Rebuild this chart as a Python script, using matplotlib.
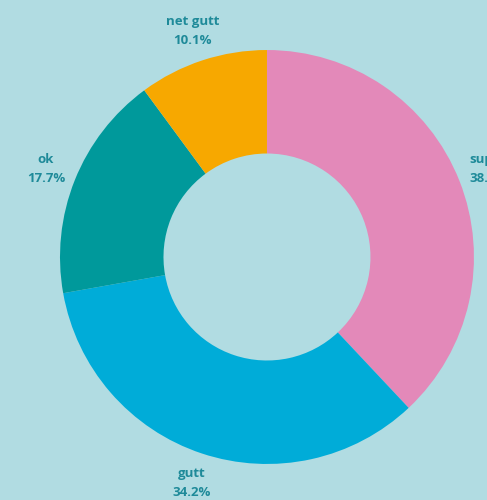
import matplotlib.pyplot as plt

# data
categories = ['super', 'gutt', 'ok', 'net gutt']
shares = [38.0, 34.2, 17.7, 10.1]
colors = ['#e389b9', '#00acd8', '#00999b', '#f7a800']

bg = '#b1dce2'
text_color = '#1e8a99'

fig = plt.figure(figsize=(4.87, 5.0), dpi=100, facecolor=bg)
# axes box sized so one data unit = outer radius (~207 px)
ax = fig.add_axes([0.1232, 0.072, 0.850, 0.828])
ax.set_facecolor(bg)

labels = ['{}\n{:.1f}%'.format(c, v) for c, v in zip(categories, shares)]
wedges, texts = ax.pie(shares, labels=labels, colors=colors,
                       startangle=90, counterclock=False,
                       radius=1.0, labeldistance=1.15,
                       wedgeprops=dict(width=0.5, linewidth=0),
                       textprops=dict(color=text_color, fontsize=9.5,
                                      fontweight='bold', family='Open Sans',
                                      linespacing=1.6))
for t in texts:
    t.set_horizontalalignment('center')
    t.set_verticalalignment('center')

ax.set_xlim(-1, 1)
ax.set_ylim(-1, 1)
ax.axis('off')

fig.savefig('out.png', dpi=100, facecolor=bg)
